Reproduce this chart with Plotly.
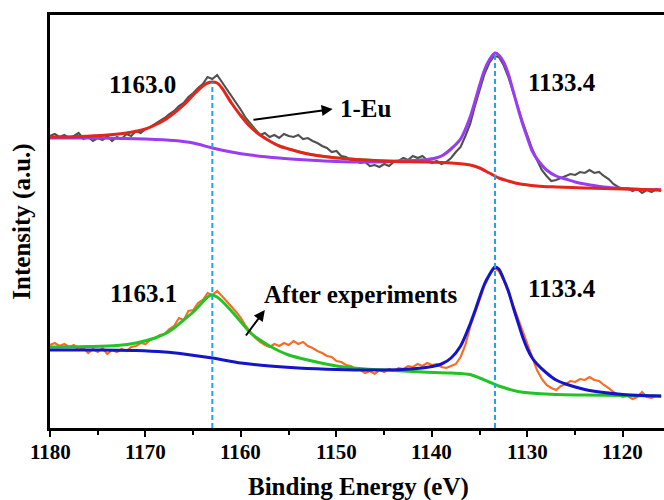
import plotly.graph_objects as go

# ---------------- data (binding energy in eV, intensity in a.u.) ----------------
raw_energy = [1180 - 0.5 * i for i in range(129)]  # 1180 ... 1116 step 0.5

eu_raw = [292, 294, 291, 293, 290, 292, 295, 289, 291, 287, 290, 288, 292, 287, 291, 289,
          294, 292, 297, 295, 299, 301, 304, 307, 310, 314, 317, 322, 325, 331, 335, 340,
          344, 351, 349, 353, 346, 340, 332, 325, 318, 310, 304, 298, 293, 295, 291, 293,
          290, 294, 292, 291, 293, 289, 290, 287, 285, 282, 280, 276, 277, 272, 271, 268,
          267, 265, 266, 262, 263, 261, 264, 262, 266, 267, 270, 268, 272, 270, 272, 268,
          265, 267, 264, 266, 270, 276, 281, 292, 304, 322, 338, 354, 365, 372, 371, 363,
          351, 335, 321, 306, 292, 279, 268, 258, 252, 247, 248, 250, 252, 254, 253, 256,
          255, 258, 255, 256, 252, 249, 244, 241, 239, 240, 237, 239, 235, 238, 236, 239,
          237]

after_raw = [83, 85, 82, 84, 81, 83, 78, 80, 75, 79, 76, 80, 74, 78, 76, 79,
             77, 81, 82, 85, 84, 88, 90, 93, 94, 99, 102, 110, 108, 117, 118, 125,
             128, 135, 133, 137, 132, 127, 121, 116, 110, 102, 96, 90, 86, 83, 81, 84,
             82, 85, 83, 87, 84, 86, 82, 80, 77, 75, 72, 71, 67, 66, 63, 62,
             59, 58, 55, 57, 54, 58, 56, 59, 57, 60, 59, 62, 61, 64, 62, 65,
             63, 64, 61, 60, 62, 64, 71, 83, 101, 115, 129, 142, 152, 160, 157, 148,
             136, 123, 108, 95, 82, 69, 58, 49, 43, 40, 38, 42, 44, 47, 46, 49,
             48, 51, 48, 47, 43, 40, 36, 33, 31, 32, 29, 31, 36, 31, 30, 32,
             31]

# 1-Eu fit: Eu 3d3/2 component (red)
eu_fit1_e = [1180, 1177, 1174, 1172, 1170, 1169, 1168, 1167, 1166, 1165, 1164, 1163.5, 1163,
             1162.5, 1162, 1161, 1160, 1159, 1158, 1157, 1156, 1155, 1153, 1150, 1147, 1144,
             1141, 1138, 1136, 1135, 1134, 1133, 1132, 1131, 1129, 1127, 1124, 1120, 1116]
eu_fit1_v = [291, 291.5, 293, 295, 299, 303, 308, 315, 323, 333, 342, 345, 346,
             345, 340, 325, 312, 301, 293, 287, 282, 279, 274, 270, 268, 266.5,
             266, 265, 263, 260, 255, 250, 247, 244.5, 242, 241, 240, 239, 238]

# 1-Eu fit: Eu 3d5/2 component (purple)
eu_fit2_e = [1180, 1175, 1170, 1167, 1165, 1163, 1161, 1159, 1156, 1153, 1150, 1147, 1144,
             1141, 1140, 1139, 1138, 1137, 1136, 1135, 1134.5, 1134, 1133.4, 1133, 1132.5,
             1132, 1131.5, 1131, 1130.5, 1130, 1129.5, 1129, 1128, 1127, 1126, 1125, 1124,
             1122, 1120, 1118, 1116]
eu_fit2_v = [290, 290, 289, 287.5, 285, 280, 276, 273, 270, 268, 266.5, 266, 266.5,
             268, 269, 272, 279, 289, 311, 343, 358, 368, 375, 373, 366,
             354, 337, 320, 304, 290, 277, 269, 258, 252, 249, 246, 244,
             241, 239.5, 238.5, 238]

# 1-Eu envelope (green)
eu_env_e = [1160, 1158, 1156, 1153, 1150, 1147, 1144, 1141, 1139, 1137]
eu_env_v = [313, 293, 282.5, 274.5, 270.5, 268.5, 267.5, 268.5, 272, 289]

# After experiments fit: 3d3/2 component (green)
af_fit1_e = [1180, 1176, 1173, 1171, 1169, 1168, 1167, 1166, 1165, 1164, 1163.5, 1163.1,
             1162.5, 1162, 1161, 1160, 1159, 1158, 1157, 1156, 1155, 1153, 1150, 1147,
             1144, 1141, 1138, 1136, 1135, 1134, 1133, 1132, 1131, 1129, 1127, 1124,
             1120, 1116]
af_fit1_v = [81, 81.5, 82.5, 85, 90, 94, 100, 108, 116, 126, 131, 133,
             131, 127, 117, 106, 95, 88, 82, 77, 73, 68, 62, 59,
             57.5, 56, 55, 53.5, 50, 46, 42, 39, 36.5, 34.5, 33.5, 33,
             32.5, 32]

# After experiments fit: 3d5/2 component (blue)
af_fit2_e = [1180, 1175, 1171, 1168, 1166, 1163, 1160, 1157, 1154, 1150, 1146, 1143, 1141,
             1140, 1139, 1138, 1137, 1136, 1135.5, 1135, 1134.5, 1134, 1133.4, 1133,
             1132.5, 1132, 1131.5, 1131, 1130.5, 1130, 1129.5, 1129, 1128, 1127, 1126,
             1125, 1124, 1122, 1120, 1118, 1116]
af_fit2_v = [78, 78, 77.5, 76, 74, 70, 65, 62, 60, 58.5, 58, 58.5, 60,
             61.5, 64, 70, 82, 104, 117, 131, 144, 153, 161, 159,
             149, 137, 121, 106, 91, 79, 70, 64, 55, 48, 44,
             41, 38.5, 35.5, 33.5, 32.5, 32]

peak_positions = [1163.0, 1133.4]
x_ticks = [1180, 1170, 1160, 1150, 1140, 1130, 1120]

# ---------------- figure ----------------
FONT = "Liberation Serif"
fig = go.Figure()

def line(x, y, color, width, shape="linear"):
    fig.add_trace(go.Scatter(x=x, y=y, mode="lines", hoverinfo="skip", showlegend=False,
                             line=dict(color=color, width=width, shape=shape,
                                       smoothing=0.8 if shape == "spline" else None)))

line(raw_energy, eu_raw, "#505050", 2.1)
line(eu_env_e, eu_env_v, "#2ab52a", 2, "spline")
line(eu_fit2_e, eu_fit2_v, "#9a3cf0", 3, "spline")
line(eu_fit1_e, eu_fit1_v, "#e3261c", 3, "spline")

line(raw_energy, after_raw, "#f76b24", 2.1)
line(af_fit1_e, af_fit1_v, "#22c322", 3, "spline")
line(af_fit2_e, af_fit2_v, "#1414c8", 3, "spline")

for pe in peak_positions:
    # vertical dashed guide from axis up to the top spectrum's peak
    peak_val = max(v for e, v in zip(eu_fit1_e + eu_fit2_e, eu_fit1_v + eu_fit2_v)
                   if abs(e - pe) < 0.3)
    fig.add_shape(type="line", xref="x", yref="y", x0=pe, x1=pe, y0=0, y1=peak_val,
                  line=dict(color="#1ea5e8", width=2, dash="5px,3px"), layer="above")

def label(x, y, text):
    fig.add_annotation(x=x, y=y, xref="x", yref="y", text="<b>" + text + "</b>",
                       showarrow=False,
                       font=dict(family=FONT, size=25, color="black"))

label(1170.3, 344, "1163.0")
label(1126.4, 346, "1133.4")
label(1146.9, 320, "1-Eu")
label(1170.2, 135, "1163.1")
label(1147.5, 134, "After experiments")
label(1126.4, 140, "1133.4")

def arrow(x0, y0, x1, y1):
    fig.add_annotation(x=x1, y=y1, ax=x0, ay=y0, xref="x", yref="y", axref="x", ayref="y",
                       text="", showarrow=True, arrowhead=2, arrowsize=1.1, arrowwidth=2,
                       arrowcolor="black")

arrow(1158.85, 308, 1150.4, 319)
arrow(1159.6, 91, 1157.5, 118)

# x tick labels and x title placed as annotations below the axis
for t in x_ticks:
    fig.add_annotation(x=t, y=0, xref="x", yref="paper", yanchor="middle", yshift=-24,
                       text="<b>%d</b>" % t, showarrow=False,
                       font=dict(family=FONT, size=21, color="black"))
fig.add_annotation(x=0.503, y=0, xref="paper", yref="paper", yanchor="middle", yshift=-59,
                   text="<b>Binding Energy (eV)</b>", showarrow=False,
                   font=dict(family=FONT, size=25, color="black"))

fig.update_layout(
    width=664, height=500,
    margin=dict(l=50, r=0, t=15, b=72),
    paper_bgcolor="white", plot_bgcolor="white",
    xaxis=dict(range=[1180, 1115.7], showgrid=False, zeroline=False,
               showline=True, linecolor="black", linewidth=2.5, mirror=True,
               ticks="outside", ticklen=6, tickwidth=2, tickcolor="black",
               tickvals=x_ticks, showticklabels=False,
               minor=dict(dtick=5, tick0=1180, ticks="outside", ticklen=4, tickwidth=2,
                          tickcolor="black")),
    yaxis=dict(range=[0, 413], showgrid=False, zeroline=False,
               showline=True, linecolor="black", linewidth=2.5, mirror=False,
               showticklabels=False, ticks="",
               title=dict(text="<b>Intensity (a.u.)</b>", standoff=10,
                          font=dict(family=FONT, size=25, color="black"))),
)

fig.write_html("out.html")
